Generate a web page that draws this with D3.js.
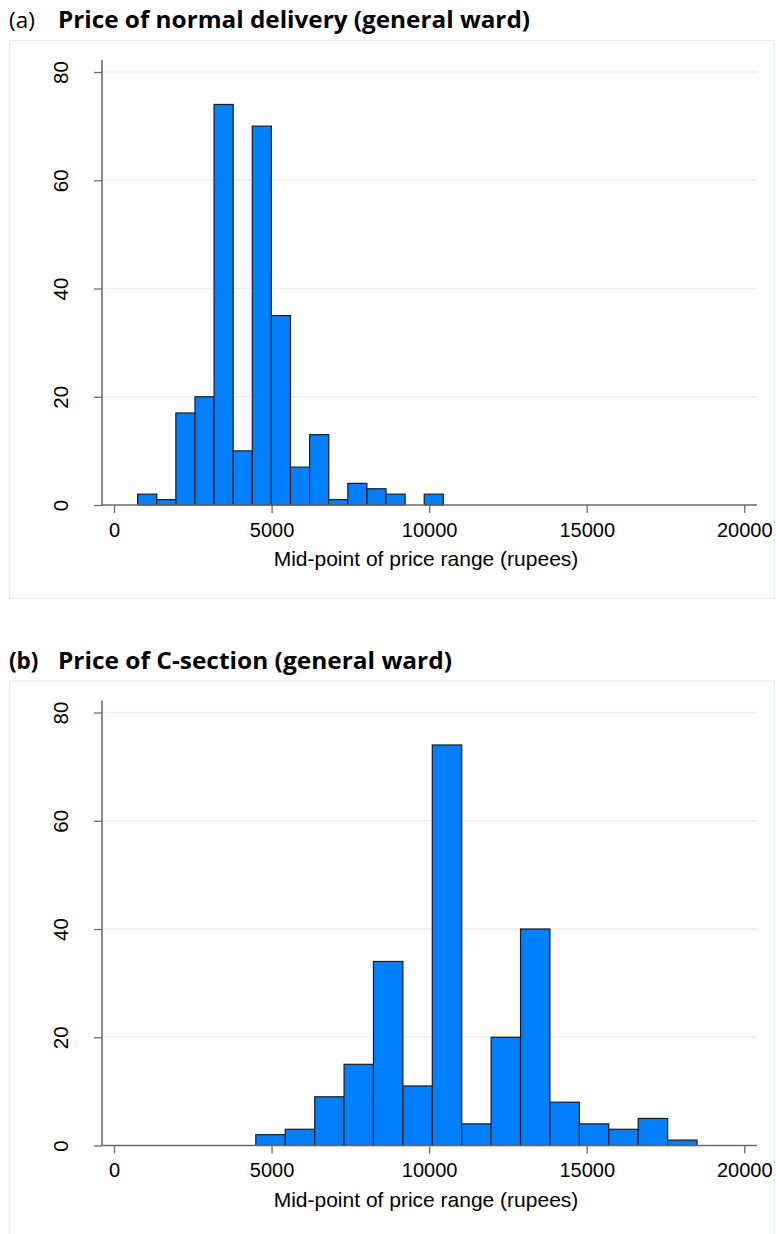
<!DOCTYPE html>
<html>
<head>
<meta charset="utf-8">
<script src="https://cdn.jsdelivr.net/npm/d3@7"></script>
<style>
  html, body { margin: 0; padding: 0; background: #ffffff; }
  svg { display: block; }
</style>
</head>
<body>
<svg id="chart" width="776" height="1234"></svg>
<script>
// Histogram bin edges (rupees) and frequencies for each panel
const normalEdges = [750, 1356, 1963, 2569, 3175, 3781, 4388, 4994, 5600, 6206, 6813, 7419, 8025, 8631, 9238, 9844, 10450];
const normalCounts = [2, 1, 17, 20, 74, 10, 70, 35, 7, 13, 1, 4, 3, 2, 0, 2];

const csectionEdges = [4500, 5433, 6367, 7300, 8233, 9167, 10100, 11033, 11967, 12900, 13833, 14767, 15700, 16633, 17567, 18500];
const csectionCounts = [2, 3, 9, 15, 34, 11, 74, 4, 20, 40, 8, 4, 3, 5, 1];

const xTicks = [0, 5000, 10000, 15000, 20000];
const yTicks = [0, 20, 40, 60, 80];
const xDomain = [0, 20000];
const yDomain = [0, 80];
const xTitle = "Mid-point of price range (rupees)";

const svg = d3.select("#chart");
svg.append("rect").attr("width", 776).attr("height", 1234).attr("fill", "#ffffff");

const AXIS = "#6b6b6b";
const GRID = "#e8f0f2";
const FRAME = "#e4ecee";
const BAR = "#0080ff";
const TITLE_FONT = "'Open Sans', 'Noto Sans', sans-serif";
const AXIS_FONT = "'Liberation Sans', Arial, sans-serif";

function drawPanel(top, frameH, edges, counts, tag, tagBold, titleText, titleWidth) {
  // Panel tag and title
  svg.append("text")
    .attr("x", 9).attr("y", top - 12)
    .attr("font-family", TITLE_FONT)
    .attr("font-size", 22.5)
    .attr("font-weight", tagBold ? 700 : 400)
    .attr("fill", "#000")
    .text(tag);
  svg.append("text")
    .attr("x", 58).attr("y", top - 12)
    .attr("font-family", TITLE_FONT)
    .attr("font-size", 22.5)
    .attr("font-weight", 700)
    .attr("textLength", titleWidth)
    .attr("lengthAdjust", "spacingAndGlyphs")
    .attr("fill", "#000")
    .text(titleText);

  // Panel frame
  svg.append("rect")
    .attr("x", 9.5).attr("y", top + 0.5)
    .attr("width", 765).attr("height", frameH)
    .attr("fill", "#ffffff").attr("stroke", FRAME).attr("stroke-width", 1.2);

  const x = d3.scaleLinear().domain(xDomain).range([114, 744.3]);
  const y = d3.scaleLinear().domain(yDomain).range([top + 465, top + 32]);

  const g = svg.append("g");

  // Horizontal gridlines
  g.selectAll("line.grid").data(yTicks.filter(d => d > 0)).join("line")
    .attr("class", "grid")
    .attr("x1", 102).attr("x2", 757)
    .attr("y1", d => y(d)).attr("y2", d => y(d))
    .attr("stroke", GRID).attr("stroke-width", 1.5);

  // Bars
  const bins = counts.map((c, i) => ({ x0: edges[i], x1: edges[i + 1], n: c }));
  g.selectAll("rect.bar").data(bins.filter(b => b.n > 0)).join("rect")
    .attr("class", "bar")
    .attr("x", d => x(d.x0))
    .attr("width", d => x(d.x1) - x(d.x0))
    .attr("y", d => y(d.n))
    .attr("height", d => y(0) - y(d.n))
    .attr("fill", BAR)
    .attr("stroke", "#1c1c1c").attr("stroke-width", 1.2);

  // Y axis
  const yAxis = d3.axisLeft(y).tickValues(yTicks).tickSize(8).tickPadding(0).tickFormat(d3.format("d"));
  const ya = g.append("g").attr("transform", "translate(102,0)").call(yAxis);
  ya.select(".domain").remove();
  ya.selectAll(".tick line").attr("stroke", AXIS).attr("stroke-width", 1.3);
  ya.selectAll(".tick text")
    .attr("x", null).attr("dy", null)
    .attr("transform", "translate(-34,0) rotate(-90)")
    .attr("text-anchor", "middle")
    .attr("font-family", AXIS_FONT)
    .attr("font-size", 20.5).attr("fill", "#000");
  g.append("line")
    .attr("x1", 102).attr("x2", 102)
    .attr("y1", top + 20).attr("y2", y(0))
    .attr("stroke", AXIS).attr("stroke-width", 1.6);

  // X axis
  const xAxis = d3.axisBottom(x).tickValues(xTicks).tickSize(8).tickPadding(0).tickFormat(d3.format("d"));
  const xa = g.append("g").attr("transform", `translate(0,${y(0)})`).call(xAxis);
  xa.select(".domain").remove();
  xa.selectAll(".tick line").attr("stroke", AXIS).attr("stroke-width", 1.3);
  xa.selectAll(".tick text")
    .attr("y", 31.5).attr("dy", null)
    .attr("font-family", AXIS_FONT)
    .attr("font-size", 20).attr("fill", "#000");
  g.append("line")
    .attr("x1", 102).attr("x2", 757)
    .attr("y1", y(0)).attr("y2", y(0))
    .attr("stroke", AXIS).attr("stroke-width", 1.6);

  // X axis title
  g.append("text")
    .attr("x", 426).attr("y", y(0) + 61)
    .attr("text-anchor", "middle")
    .attr("font-family", AXIS_FONT)
    .attr("font-size", 21).attr("fill", "#000")
    .text(xTitle);
}

drawPanel(40, 558, normalEdges, normalCounts,
  "(a)", false, "Price of normal delivery (general ward)", 472);

drawPanel(680.5, 560, csectionEdges, csectionCounts,
  "(b)", true, "Price of C-section (general ward)", 394);
</script>
</body>
</html>
